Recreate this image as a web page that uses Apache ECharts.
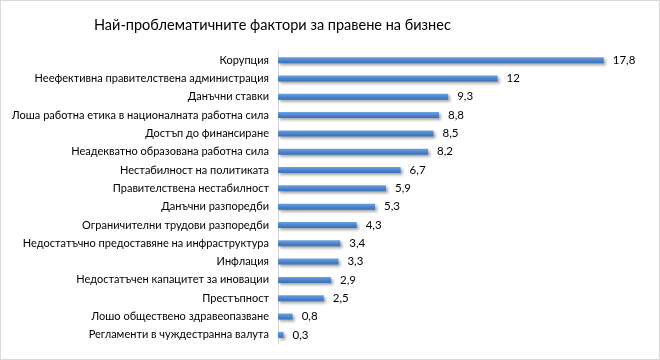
<!DOCTYPE html>
<html><head><meta charset="utf-8">
<script src="https://cdn.jsdelivr.net/npm/echarts@6/dist/echarts.min.js"></script>
<style>html,body{margin:0;padding:0;background:#fff}#c{width:660px;height:360px;box-sizing:border-box;border:1px solid #d9d9d9}</style>
</head><body><div id="c"></div>
<script>
const titleText = 'Най-проблематичните фактори за правене на бизнес';
const categories = [
 'Корупция',
 'Неефективна правителствена администрация',
 'Данъчни ставки',
 'Лоша работна етика в националната работна сила',
 'Достъп до финансиране',
 'Неадекватно образована работна сила',
 'Нестабилност на политиката',
 'Правителствена нестабилност',
 'Данъчни разпоредби',
 'Ограничителни трудови разпоредби',
 'Недостатъчно предоставяне на инфраструктура',
 'Инфлация',
 'Недостатъчен капацитет за иновации',
 'Престъпност',
 'Лошо обществено здравеопазване',
 'Регламенти в чуждестранна валута'
];
const values = [17.8, 12, 9.3, 8.8, 8.5, 8.2, 6.7, 5.9, 5.3, 4.3, 3.4, 3.3, 2.9, 2.5, 0.8, 0.3];

const font = 'Lato, "Liberation Sans", sans-serif';
const chart = echarts.init(document.getElementById('c'));
chart.setOption({
  animation: false,
  title: {
    text: titleText, left: 88, top: 12,
    textStyle: {fontFamily: font, fontSize: 14.5, fontWeight: 'normal', color: '#000'}
  },
  grid: {left: 277, right: 15, top: 50, bottom: 15, containLabel: false, outerBoundsMode: 'none'},
  xAxis: {
    type: 'value', min: 0, max: 20, show: false
  },
  yAxis: {
    type: 'category', data: categories, inverse: true,
    axisLine: {show: true, lineStyle: {color: '#d9d9d9'}},
    axisTick: {show: false},
    axisLabel: {fontFamily: font, fontSize: 11, color: '#000', margin: 9}
  },
  series: [{
    type: 'bar', data: values, barWidth: 6,
    itemStyle: {
      color: new echarts.graphic.LinearGradient(0, 0, 0, 1, [
        {offset: 0, color: '#6fa2de'}, {offset: 0.5, color: '#4d86ce'}, {offset: 1, color: '#3a6fb4'}
      ]),
      shadowColor: 'rgba(0,0,0,0.35)', shadowBlur: 3, shadowOffsetX: 2, shadowOffsetY: 2
    },
    label: {
      show: true, position: 'right', distance: 9,
      fontFamily: font, fontSize: 11.5, color: '#000',
      formatter: p => String(p.value).replace('.', ',')
    }
  }]
});
</script></body></html>
